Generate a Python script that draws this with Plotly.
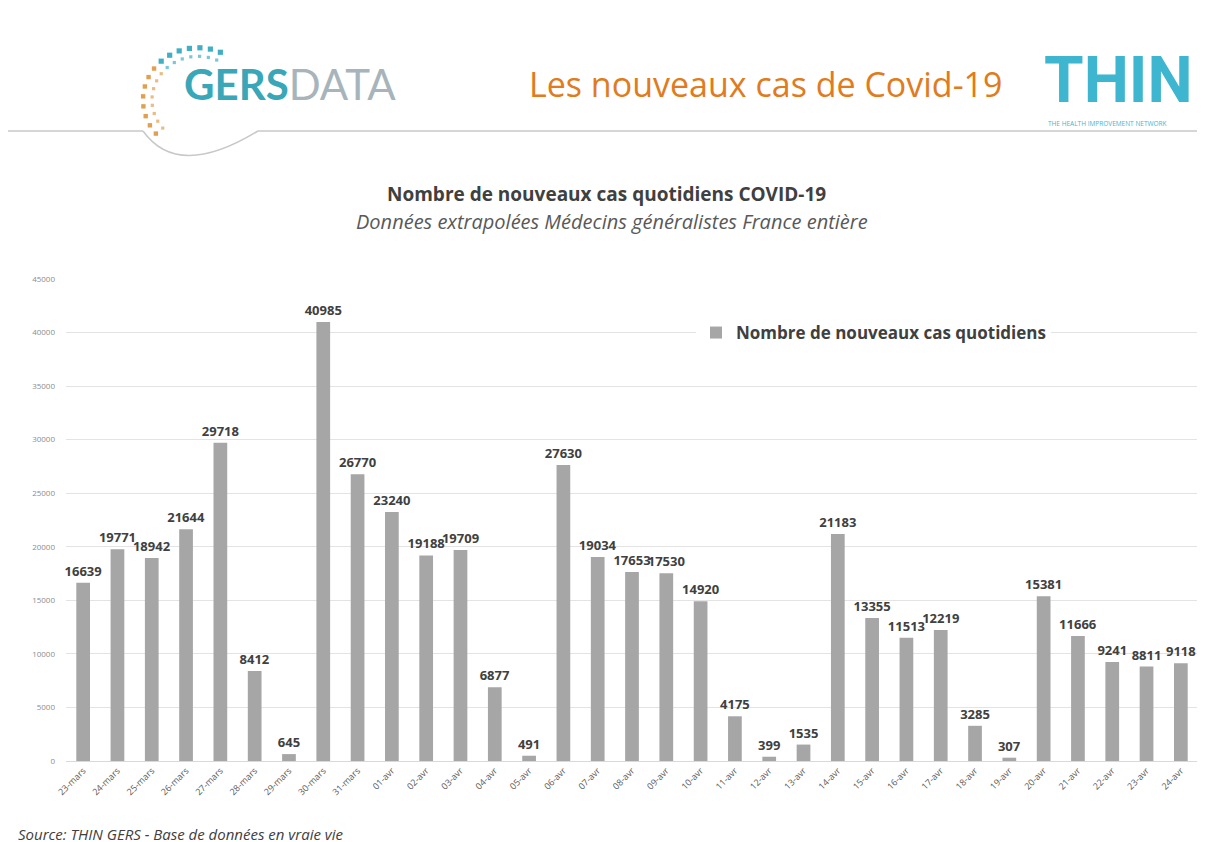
import math
import plotly.graph_objects as go

categories = ["23-mars", "24-mars", "25-mars", "26-mars", "27-mars", "28-mars", "29-mars",
              "30-mars", "31-mars", "01-avr", "02-avr", "03-avr", "04-avr", "05-avr",
              "06-avr", "07-avr", "08-avr", "09-avr", "10-avr", "11-avr", "12-avr",
              "13-avr", "14-avr", "15-avr", "16-avr", "17-avr", "18-avr", "19-avr",
              "20-avr", "21-avr", "22-avr", "23-avr", "24-avr"]
new_cases = [16639, 19771, 18942, 21644, 29718, 8412, 645, 40985, 26770, 23240, 19188,
             19709, 6877, 491, 27630, 19034, 17653, 17530, 14920, 4175, 399, 1535, 21183,
             13355, 11513, 12219, 3285, 307, 15381, 11666, 9241, 8811, 9118]
y_ticks = [0, 5000, 10000, 15000, 20000, 25000, 30000, 35000, 40000, 45000]

W, H = 1205, 842
L, R, T, B = 58, 15, 271, 89
PW, PH = W - L - R, H - T - B

fig = go.Figure()
fig.add_trace(go.Bar(
    x=categories, y=new_cases, name="Nombre de nouveaux cas quotidiens",
    marker=dict(color="#a6a6a6", line=dict(width=0)),
    text=[str(v) for v in new_cases], textposition="outside", textangle=0,
    constraintext="none",
    textfont=dict(family="Open Sans", size=13, color="#404040", weight="bold"),
    cliponaxis=False, width=0.4,
))


def px_x(x):
    return (x - L) / PW


def px_y(y):
    return (H - B - y) / PH


shapes = []
annotations = []
# header line
shapes.append(dict(type="line", xref="paper", yref="paper", x0=px_x(0), x1=px_x(135), y0=px_y(123), y1=px_y(123),
                   line=dict(color="#c8c8c8", width=1.5)))
shapes.append(dict(type="line", xref="paper", yref="paper", x0=px_x(250), x1=px_x(W), y0=px_y(123), y1=px_y(123),
                   line=dict(color="#c8c8c8", width=1.5)))

# logo arc (decorative)
shapes.append(dict(type="path", xref="paper", yref="paper",
                   path="M {} {} Q {} {} {} {}".format(px_x(135), px_y(123), px_x(170), px_y(172), px_x(250), px_y(123)),
                   line=dict(color="#c8c8c8", width=1.5)))
# dotted logo
for i in range(15):
    a = math.radians(220 - i * 11)
    r = 55
    cx, cy = 190, 92
    x = cx + r * math.cos(a)
    y = cy - r * math.sin(a) * 0.95
    col = "#3fb0c4" if i > 7 else "#e0a050"
    s = 2.6 if i > 7 else 2.2
    shapes.append(dict(type="rect", xref="paper", yref="paper",
                       x0=px_x(x - s), x1=px_x(x + s), y0=px_y(y - s), y1=px_y(y + s),
                       fillcolor=col, line=dict(width=0)))
    x2 = cx + (r - 9) * math.cos(a)
    y2 = cy - (r - 9) * math.sin(a) * 0.95
    shapes.append(dict(type="rect", xref="paper", yref="paper",
                       x0=px_x(x2 - 1.6), x1=px_x(x2 + 1.6), y0=px_y(y2 - 1.6), y1=px_y(y2 + 1.6),
                       fillcolor=col, line=dict(width=0), opacity=0.7))

fig.update_layout(
    width=W, height=H,
    margin=dict(l=L, r=R, t=T, b=B),
    paper_bgcolor="white", plot_bgcolor="white",
    font=dict(family="Open Sans", color="#595959"),
    showlegend=True,
    legend=dict(x=px_x(688), y=px_y(325), xref="paper", yref="paper", xanchor="left", yanchor="middle",
                font=dict(family="Open Sans", size=17, color="#404040", weight="bold"),
                bgcolor="rgba(255,255,255,1)", itemwidth=30),
    xaxis=dict(type="category", tickangle=-45, tickfont=dict(family="Open Sans", size=9, color="#595959"),
               showline=True, linecolor="#d9d9d9", linewidth=1, ticks="", showgrid=False,
               range=[-0.5, len(categories) - 0.5]),
    yaxis=dict(range=[0, 45000], tickvals=y_ticks, ticktext=[str(t) for t in y_ticks],
               tickfont=dict(family="Open Sans", size=8, color="#8c8c8c"),
               showgrid=True, gridcolor="#e3e3e3", gridwidth=1, zeroline=False, ticks="",
               ticklabelstandoff=10, showline=False),
)

annotations += [
    dict(text="<span style='color:#3aa7b8'><b>GERS</b></span><span style='color:#a7b4bc'>DATA</span>",
         x=px_x(174), y=px_y(76), xref="paper", yref="paper", xanchor="left", yanchor="middle",
         showarrow=False, font=dict(family="Lato", size=42)),
    dict(text="Les nouveaux cas de Covid-19", x=px_x(519), y=px_y(76), xref="paper", yref="paper",
         xanchor="left", yanchor="middle", showarrow=False,
         font=dict(family="Open Sans", size=34, color="#e07b20")),
    dict(text="<b>THIN</b>", x=px_x(1034), y=px_y(73), xref="paper", yref="paper",
         xanchor="left", yanchor="middle", showarrow=False,
         font=dict(family="Liberation Sans Narrow, Roboto", size=64, color="#3fb6d0")),
    dict(text="THE HEALTH IMPROVEMENT NETWORK", x=px_x(1038), y=px_y(115), xref="paper", yref="paper",
         xanchor="left", yanchor="middle", showarrow=False,
         font=dict(family="Open Sans", size=6.5, color="#3fb6d0")),
    dict(text="<b>Nombre de nouveaux cas quotidiens COVID-19</b>", x=px_x(598), y=px_y(186),
         xref="paper", yref="paper", xanchor="center", yanchor="middle", showarrow=False,
         font=dict(family="Open Sans", size=19, color="#404040")),
    dict(text="<i>Données extrapolées Médecins généralistes France entière</i>", x=px_x(604), y=px_y(213),
         xref="paper", yref="paper", xanchor="center", yanchor="middle", showarrow=False,
         font=dict(family="Open Sans", size=20, color="#595959")),
    dict(text="<i>Source: THIN GERS - Base de données en vraie vie</i>", x=px_x(8), y=px_y(826),
         xref="paper", yref="paper", xanchor="left", yanchor="middle", showarrow=False,
         font=dict(family="Open Sans", size=15, color="#404040")),
]

fig.update_layout(shapes=shapes, annotations=annotations)
fig.write_html("out.html")
